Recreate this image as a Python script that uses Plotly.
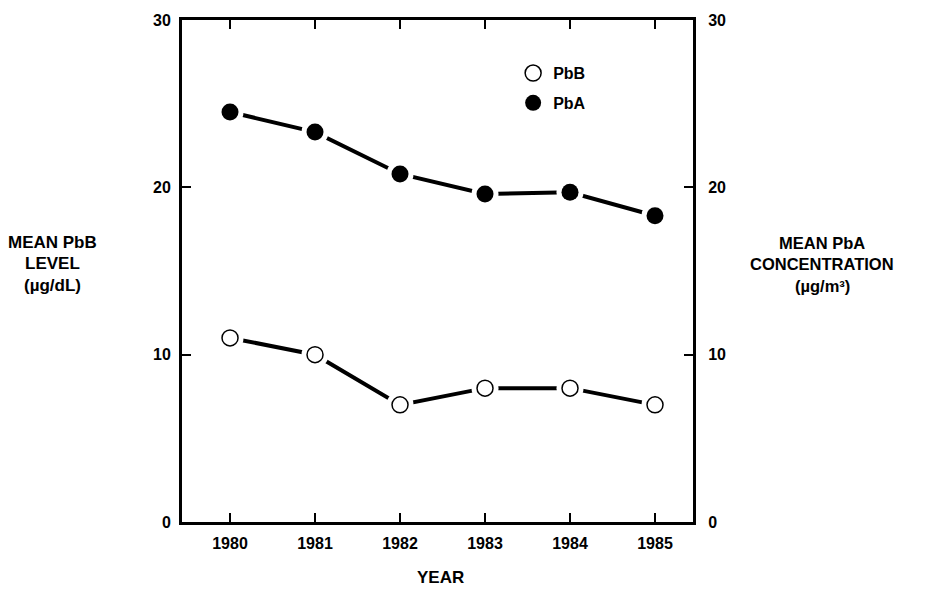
import plotly.graph_objects as go

years = [1980, 1981, 1982, 1983, 1984, 1985]
pbb = [11.0, 10.0, 7.0, 8.0, 8.0, 7.0]
pba = [24.5, 23.3, 20.8, 19.6, 19.7, 18.3]
y_ticks = [0, 10, 20, 30]
year_labels = ["1980", "1981", "1982", "1983", "1984", "1985"]

FONT = "Liberation Sans, Arial, Helvetica, sans-serif"

fig = go.Figure()
for vals in (pbb, pba):
    fig.add_trace(go.Scatter(x=years, y=vals, mode="lines",
                             line=dict(color="black", width=4),
                             showlegend=False, hoverinfo="skip"))
for vals in (pbb, pba):
    fig.add_trace(go.Scatter(x=years, y=vals, mode="markers",
                             marker=dict(color="white", size=27, line=dict(width=0)),
                             showlegend=False, hoverinfo="skip"))
fig.add_trace(go.Scatter(x=years, y=pbb, mode="markers", name="PbB", legendgroup="a",
                         marker=dict(color="white", size=16,
                                     line=dict(color="black", width=1.5))))
fig.add_trace(go.Scatter(x=years, y=pba, mode="markers", name="PbA", legendgroup="b",
                         marker=dict(color="black", size=17, line=dict(width=0))))
# right axis dummy trace
fig.add_trace(go.Scatter(x=[years[0]], y=[None], yaxis="y2", showlegend=False,
                         hoverinfo="skip", mode="markers"))

axis_common = dict(showline=True, linecolor="black", linewidth=3,
                   ticks="inside", ticklen=9, tickwidth=1.5, tickcolor="black",
                   showgrid=False, zeroline=False,
                   tickfont=dict(family=FONT, size=16, color="black", weight="bold"))

W, H = 928, 594
OFF = 8  # page body margin offset
l, r, t, b = 174, 243, 12, 80

fig.update_layout(
    width=W, height=H,
    margin=dict(l=l, r=r, t=t, b=b, autoexpand=False),
    paper_bgcolor="white", plot_bgcolor="white",
    xaxis=dict(range=[1979.435, 1985.447], tickvals=years, ticktext=year_labels,
               mirror="ticks", ticklabelstandoff=5, **axis_common),
    yaxis=dict(range=[0, 30], tickvals=y_ticks, mirror="ticks",
               ticklabelstandoff=5, **axis_common),
    yaxis2=dict(range=[0, 30], tickvals=y_ticks, overlaying="y", side="right",
                ticklabelstandoff=9, **axis_common),
    legend=dict(x=0.648, y=0.928, xanchor="left", yanchor="top",
                bgcolor="rgba(0,0,0,0)", tracegroupgap=6, itemwidth=30,
                font=dict(family=FONT, size=16, color="black", weight="bold")),
)

pw, ph = W - l - r, H - t - b
# (text, screen x, screen y, font size)
labels = [
    ("MEAN PbB", 52, 242, 17),
    ("LEVEL", 52, 263, 17),
    ("(µg/dL)", 52, 285, 17),
    ("MEAN PbA", 822, 243, 16.5),
    ("CONCENTRATION", 822, 264, 16.5),
    ("(µg/m³)", 822, 286, 16.5),
    ("YEAR", 440, 577, 17),
]
anns = []
for text, sx, sy, fs in labels:
    px, py = sx - OFF, sy - OFF
    anns.append(dict(text=text, x=(px - l) / pw, y=(H - b - py) / ph,
                     xref="paper", yref="paper", showarrow=False,
                     xanchor="center", yanchor="middle", align="center",
                     font=dict(family=FONT, size=fs, color="black", weight="bold")))
fig.update_layout(annotations=anns)

fig.write_html("out.html")
